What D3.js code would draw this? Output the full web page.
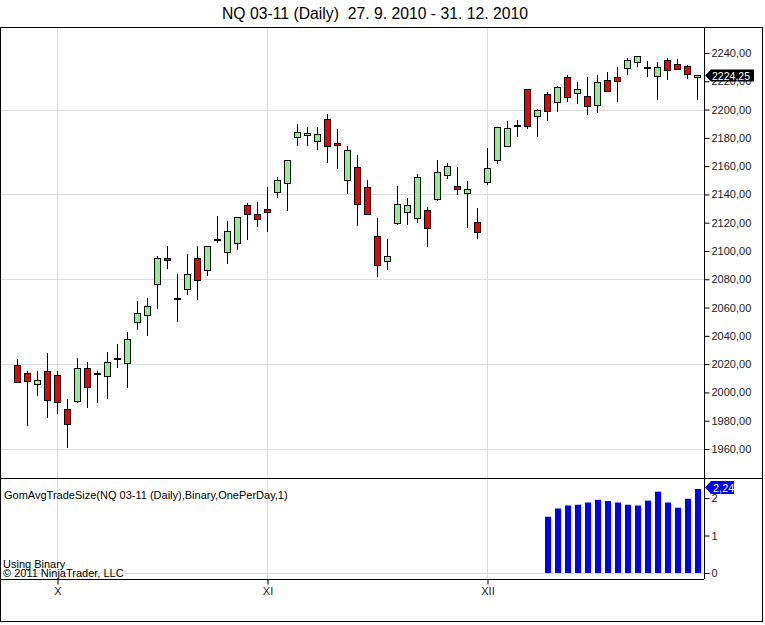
<!DOCTYPE html>
<html>
<head>
<meta charset="utf-8">
<script src="https://cdn.jsdelivr.net/npm/d3@7"></script>
<style>
  body { margin: 0; background: #fff; }
  svg text { font-family: "Liberation Sans", Arial, sans-serif; }
</style>
</head>
<body>
<div id="chart"></div>
<script>
// bar index of first day in each month (27.9.2010 is index 0)
const monthLabels = ["X", "XI", "XII"];
const monthStart = [4, 25, 47];

// daily OHLC, NQ 03-11
const open = [2019.4, 2013.7, 2005.8, 2014.9, 2012.1, 1988.1, 1994.1, 2017.1, 2014.0, 2011.4,
  2024.1, 2020.6, 2049.6, 2055.2, 2076.5, 2095.0, 2067.0, 2072.9, 2094.8, 2086.4,
  2108.5, 2099.1, 2105.4, 2132.5, 2126.2, 2129.9, 2141.5, 2147.9, 2180.4, 2181.8,
  2177.6, 2193.1, 2176.4, 2150.0, 2159.2, 2145.0, 2110.6, 2092.7, 2119.6, 2127.4,
  2123.1, 2129.0, 2136.6, 2153.5, 2146.0, 2140.8, 2120.3, 2148.8, 2164.1, 2174.0,
  2188.9, 2214.3, 2195.2, 2210.8, 2205.1, 2222.8, 2211.5, 2209.4, 2203.0, 2220.7,
  2222.8, 2229.2, 2233.4, 2230.3, 2223.5, 2234.8, 2232.0, 2230.6, 2222.8];
const high = [2023.6, 2015.2, 2015.2, 2027.9, 2014.9, 1995.4, 2024.3, 2021.5, 2015.2, 2028.6,
  2034.2, 2042.5, 2064.6, 2066.8, 2096.5, 2103.5, 2083.5, 2097.9, 2103.5, 2103.5,
  2124.7, 2121.0, 2124.0, 2133.7, 2134.4, 2145.5, 2152.3, 2164.5, 2189.8, 2187.5,
  2187.5, 2196.9, 2186.3, 2174.2, 2167.7, 2150.2, 2123.5, 2108.5, 2146.0, 2137.3,
  2154.4, 2130.9, 2164.3, 2162.2, 2159.4, 2149.5, 2130.4, 2172.8, 2188.0, 2191.9,
  2192.6, 2214.5, 2200.2, 2212.2, 2216.5, 2224.4, 2219.3, 2222.8, 2224.4, 2226.4,
  2229.9, 2236.3, 2238.0, 2234.1, 2233.4, 2236.3, 2235.5, 2231.3, 2224.5];
const low = [2007.0, 1976.5, 1997.7, 1982.1, 1984.5, 1960.5, 1992.7, 1989.2, 1992.7, 1995.6,
  2017.5, 2003.3, 2044.4, 2040.1, 2059.2, 2087.1, 2050.0, 2069.1, 2065.4, 2082.5,
  2105.4, 2091.0, 2100.7, 2107.8, 2116.8, 2113.6, 2137.7, 2128.5, 2174.5, 2174.5,
  2171.4, 2162.4, 2158.0, 2140.5, 2117.9, 2125.2, 2081.8, 2086.8, 2118.2, 2118.2,
  2119.6, 2103.0, 2135.4, 2151.1, 2139.8, 2116.5, 2108.3, 2146.5, 2161.7, 2173.8,
  2180.8, 2186.1, 2180.8, 2192.1, 2198.1, 2205.1, 2203.7, 2196.0, 2197.4, 2212.2,
  2205.1, 2224.2, 2230.3, 2223.2, 2207.0, 2220.7, 2228.5, 2221.4, 2207.0];
const close = [2007.4, 2008.3, 2008.6, 1994.1, 1993.0, 1977.5, 2017.1, 2003.6, 2014.0, 2021.3,
  2024.1, 2037.6, 2055.9, 2061.3, 2094.8, 2093.4, 2067.0, 2083.5, 2079.3, 2103.3,
  2108.5, 2113.9, 2123.8, 2126.0, 2122.4, 2128.1, 2150.0, 2164.1, 2183.9, 2183.4,
  2182.7, 2173.7, 2174.7, 2171.2, 2133.0, 2125.7, 2089.9, 2096.5, 2133.0, 2132.3,
  2152.1, 2116.0, 2155.9, 2159.9, 2143.6, 2143.6, 2113.2, 2158.5, 2187.5, 2186.8,
  2188.9, 2188.2, 2199.5, 2198.8, 2215.7, 2208.7, 2214.3, 2202.3, 2219.3, 2212.9,
  2220.0, 2234.8, 2237.7, 2230.3, 2229.9, 2227.8, 2228.5, 2224.9, 2224.25];

// GomAvgTradeSize, available from bar 53 on
const avgStart = 53;
const avgSize = [1.50, 1.72, 1.80, 1.82, 1.88, 1.95, 1.92, 1.88, 1.82, 1.80,
  1.93, 2.17, 1.88, 1.74, 1.98, 2.24];

const priceTicks = d3.range(1960, 2241, 20);
const priceGrid = [1960, 2020, 2080, 2140, 2200];
const avgTicks = [0, 1, 2];

const width = 765, height = 625;
const plotL = 1, plotR = 704, plotT = 27, plotMid = 478, plotB = 579;

const svg = d3.select("#chart").append("svg")
  .attr("width", width).attr("height", height);

const comma = v => d3.format(".2f")(v).replace(".", ",");

const x = d3.scaleLinear().domain([0, 68]).range([17, 697]);
const y = d3.scaleLinear().domain([1960, 2240]).range([449, 53]);
const y2 = d3.scaleLinear().domain([0, 2]).range([573, 498]);

// title (condensed like the original)
svg.append("text")
  .attr("x", 222).attr("y", 19)
  .attr("font-size", "17px")
  .attr("textLength", 306).attr("lengthAdjust", "spacingAndGlyphs")
  .style("white-space", "pre")
  .attr("fill", "#000")
  .text("NQ 03-11 (Daily)  27. 9. 2010 - 31. 12. 2010");

// grid
const grid = svg.append("g").attr("stroke", "#dcdcdc").attr("shape-rendering", "crispEdges");
grid.selectAll(".vg").data(monthStart).enter().append("line")
  .attr("x1", d => Math.round(x(d)) + 0.5).attr("x2", d => Math.round(x(d)) + 0.5)
  .attr("y1", plotT).attr("y2", plotB);
grid.selectAll(".hg").data(priceGrid).enter().append("line")
  .attr("x1", plotL).attr("x2", plotR)
  .attr("y1", d => Math.round(y(d)) + 0.5).attr("y2", d => Math.round(y(d)) + 0.5);
grid.append("line")
  .attr("x1", plotL).attr("x2", plotR)
  .attr("y1", Math.round(y2(0)) + 0.5).attr("y2", Math.round(y2(0)) + 0.5);

// candles
const candles = svg.append("g").attr("shape-rendering", "crispEdges");
const bars = d3.range(open.length).map(i => ({ i: i, o: open[i], h: high[i], l: low[i], c: close[i] }));

candles.selectAll(".wick").data(bars).enter().append("line")
  .attr("x1", d => Math.round(x(d.i)) + 0.5).attr("x2", d => Math.round(x(d.i)) + 0.5)
  .attr("y1", d => y(d.h)).attr("y2", d => y(d.l))
  .attr("stroke", "#000");

candles.selectAll(".body").data(bars.filter(d => d.o !== d.c)).enter().append("rect")
  .attr("x", d => Math.round(x(d.i)) - 2.5)
  .attr("width", 6)
  .attr("y", d => Math.round(y(Math.max(d.o, d.c))) + 0.5)
  .attr("height", d => Math.max(1, Math.round(Math.abs(y(d.o) - y(d.c)))))
  .attr("fill", d => d.c > d.o ? "#90ee90" : "#ee0000")
  .attr("stroke", "#000");

candles.selectAll(".doji").data(bars.filter(d => d.o === d.c)).enter().append("line")
  .attr("x1", d => Math.round(x(d.i)) - 3).attr("x2", d => Math.round(x(d.i)) + 4)
  .attr("y1", d => Math.round(y(d.o)) + 0.5).attr("y2", d => Math.round(y(d.o)) + 0.5)
  .attr("stroke", "#000").attr("stroke-width", 2);

// indicator bars
svg.append("g").selectAll("rect").data(avgSize).enter().append("rect")
  .attr("x", (d, k) => Math.round(x(avgStart + k)) - 2)
  .attr("width", 6)
  .attr("y", d => y2(d))
  .attr("height", d => y2(0) - y2(d))
  .attr("fill", "#0000ff");

// frame and panel borders
const frame = svg.append("g").attr("stroke", "#000").attr("fill", "none").attr("shape-rendering", "crispEdges");
frame.append("rect").attr("x", 0.5).attr("y", plotT + 0.5).attr("width", 762).attr("height", 594);
frame.append("line").attr("x1", 0).attr("x2", 763).attr("y1", plotMid + 0.5).attr("y2", plotMid + 0.5);
frame.append("line").attr("x1", 0).attr("x2", plotR).attr("y1", plotB + 0.5).attr("y2", plotB + 0.5);
frame.append("line").attr("x1", plotR + 0.5).attr("x2", plotR + 0.5).attr("y1", plotT).attr("y2", plotB);

function styleAxis(g) {
  g.select(".domain").remove();
  g.selectAll("text").attr("font-size", "11px").attr("fill", "#222")
    .style("font-family", "'Liberation Sans', Arial, sans-serif");
}

// price axis
const yAxis = d3.axisRight(y).tickValues(priceTicks).tickSize(5).tickPadding(2).tickFormat(comma);
svg.append("g").attr("transform", `translate(${plotR + 0.5},0)`).call(yAxis).call(styleAxis);

// indicator axis
const y2Axis = d3.axisRight(y2).tickValues(avgTicks).tickSize(5).tickPadding(2).tickFormat(d3.format("d"));
svg.append("g").attr("transform", `translate(${plotR + 0.5},0)`).call(y2Axis).call(styleAxis);

// month axis
const xAxis = d3.axisBottom(x).tickValues(monthStart).tickSize(5).tickPadding(3)
  .tickFormat((d, k) => monthLabels[k]);
svg.append("g").attr("transform", `translate(0.5,${plotB + 0.5})`).call(xAxis).call(styleAxis);

// last price marker
const lastY = Math.round(y(close[close.length - 1])) + 0.5;
svg.append("path")
  .attr("d", `M${plotR + 1},${lastY} L${plotR + 7},${lastY - 6} L754,${lastY - 6} L754,${lastY + 6} L${plotR + 7},${lastY + 6} Z`)
  .attr("fill", "#000");
svg.append("text")
  .attr("x", plotR + 8).attr("y", lastY + 4)
  .attr("font-size", "11px").attr("fill", "#fff")
  .attr("textLength", 38).attr("lengthAdjust", "spacingAndGlyphs")
  .text(comma(close[close.length - 1]));

// last indicator marker
const lastA = avgSize[avgSize.length - 1];
const aY = 487.5;
svg.append("path")
  .attr("d", `M${plotR + 1},${aY} L${plotR + 7},${aY - 6.5} L734,${aY - 6.5} L734,${aY + 6.5} L${plotR + 7},${aY + 6.5} Z`)
  .attr("fill", "#0000ff");
svg.append("text")
  .attr("x", plotR + 9).attr("y", aY + 4)
  .attr("font-size", "11px").attr("fill", "#fff")
  .text(comma(lastA));

// panel texts
svg.append("text").attr("x", 4).attr("y", 499).attr("font-size", "11px").attr("fill", "#000")
  .text("GomAvgTradeSize(NQ 03-11 (Daily),Binary,OnePerDay,1)");
svg.append("text").attr("x", 3).attr("y", 568).attr("font-size", "11px").attr("fill", "#000")
  .text("Using Binary");
svg.append("text").attr("x", 3).attr("y", 577).attr("font-size", "11px").attr("fill", "#000")
  .text("\u00a9 2011 NinjaTrader, LLC");
</script>
</body>
</html>
